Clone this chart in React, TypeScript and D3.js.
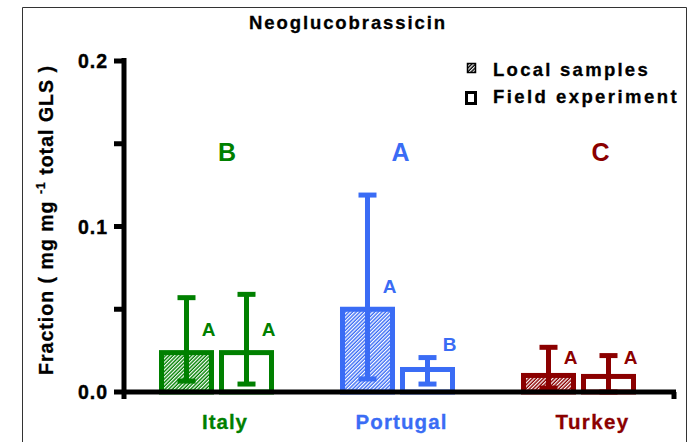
import React, { useEffect, useRef } from "react";
import * as d3 from "d3";

const countries = ["Italy", "Portugal", "Turkey"];
const colors = ["#008000", "#3a6cf5", "#8b0000"];
const seriesKeys = ["local", "field"];
const legendLabels = ["Local samples", "Field experiment"];
const localMean = [0.0238, 0.050, 0.010];
const localLow = [0.0066, 0.0079, 0.0024];
const localHigh = [0.057, 0.119, 0.027];
const fieldMean = [0.0238, 0.0136, 0.0094];
const fieldLow = [0.0048, 0.0048, 0.0];
const fieldHigh = [0.059, 0.0208, 0.022];
const groupLetters = ["B", "A", "C"];
const localLetters = ["A", "A", "A"];
const fieldLetters = ["A", "B", "A"];
const localLetterY = [0.038, 0.064, 0.021];
const fieldLetterY = [0.038, 0.0284, 0.021];
const yTicks = [0, 0.1, 0.2];
const yMinorTicks = [0.05, 0.15];

export default function App() {
  const ref = useRef<SVGSVGElement>(null);
  useEffect(() => {
    document.body.style.margin = "0";
    const svg = d3.select(ref.current);
    svg.selectAll("*").remove();
    const font = "Arial, 'Liberation Sans', sans-serif";
    const fit = (sel: any, target: number) => {
      const node = sel.node() as SVGTextElement;
      const w = node.getComputedTextLength();
      const n = (node.textContent || "").length;
      sel.attr("letter-spacing", (target - w) / n);
    };
    const bold = (sel: any, col: string, sw = 0.5) =>
      sel.attr("stroke", col).attr("stroke-width", sw).attr("paint-order", "stroke");

    const y = d3.scaleLinear().domain([0, 0.2]).range([392, 61]);
    const x0 = d3.scaleBand().domain(countries).range([126, 669]).paddingInner(0.3646).paddingOuter(0.1823);
    const x1 = d3.scaleBand().domain(seriesKeys).range([0, x0.bandwidth()]).paddingInner(0.0833);

    const defs = svg.append("defs");
    const mkPattern = (id: string, c: string) => {
      const p = defs.append("pattern").attr("id", id)
        .attr("patternUnits", "userSpaceOnUse").attr("width", 2.6).attr("height", 2.6)
        .attr("patternTransform", "rotate(45)");
      p.append("rect").attr("width", 2.6).attr("height", 2.6).attr("fill", c);
      p.append("rect").attr("x", 0).attr("y", 0).attr("width", 1.2).attr("height", 2.6)
        .attr("fill", "white");
    };
    colors.forEach((c, i) => mkPattern("hatch" + i, c));
    mkPattern("hatchK", "#000");

    // frame
    svg.append("path").attr("d", "M22.5,442 V7.5 H686.5 V442")
      .attr("fill", "none").attr("stroke", "#333").attr("stroke-width", 1);

    // title
    const title = svg.append("text").attr("x", 348).attr("y", 29).attr("text-anchor", "middle")
      .attr("font-family", font).attr("font-weight", "bold").attr("font-size", 18.5)
      .text("Neoglucobrassicin");
    bold(title, "black", 0.3);
    fit(title, 198);

    // bars
    const series = [
      { mean: localMean, low: localLow, high: localHigh, letters: localLetters, ly: localLetterY, hatch: true },
      { mean: fieldMean, low: fieldLow, high: fieldHigh, letters: fieldLetters, ly: fieldLetterY, hatch: false },
    ];
    const groupOffsets = [10.5, 3, 22];
    const labelOffsets = [8.5, 4, 14];
    const labelWidths = [46, 92, 74];
    countries.forEach((c, ci) => {
      const gx = x0(c)!;
      series.forEach((s, si) => {
        const bx = gx + x1(seriesKeys[si])!;
        const bw = x1.bandwidth();
        const col = colors[ci];
        const top = y(s.mean[ci]);
        svg.append("rect").attr("x", bx + 2.5).attr("y", top)
          .attr("width", bw - 5).attr("height", Math.max(0, y(0) - top))
          .attr("fill", s.hatch ? `url(#hatch${ci})` : "white")
          .attr("stroke", col).attr("stroke-width", 5);
        const cx = bx + bw / 2;
        svg.append("line").attr("x1", cx).attr("x2", cx)
          .attr("y1", y(s.high[ci])).attr("y2", y(s.low[ci]))
          .attr("stroke", col).attr("stroke-width", 5);
        [s.high[ci], s.low[ci]].forEach((v) => {
          svg.append("line").attr("x1", cx - 9).attr("x2", cx + 9)
            .attr("y1", y(v)).attr("y2", y(v))
            .attr("stroke", col).attr("stroke-width", 5);
        });
        svg.append("text").attr("x", cx + 22).attr("y", y(s.ly[ci]))
          .attr("text-anchor", "middle").attr("dominant-baseline", "central")
          .attr("font-family", font).attr("font-weight", "bold").attr("font-size", 19)
          .attr("fill", col).text(s.letters[ci]);
      });
      svg.append("text").attr("x", gx + x0.bandwidth() / 2 + groupOffsets[ci]).attr("y", y(0.145))
        .attr("text-anchor", "middle").attr("dominant-baseline", "central")
        .attr("font-family", font).attr("font-weight", "bold").attr("font-size", 25)
        .attr("fill", colors[ci]).text(groupLetters[ci]);
      const lab = svg.append("text").attr("x", gx + x0.bandwidth() / 2 + labelOffsets[ci]).attr("y", 429)
        .attr("text-anchor", "middle")
        .attr("font-family", font).attr("font-weight", "bold").attr("font-size", 20.5)
        .attr("fill", colors[ci]).text(c);
      bold(lab, colors[ci], 0.3);
      fit(lab, labelWidths[ci]);
    });

    // axes
    svg.append("line").attr("x1", 124).attr("x2", 124).attr("y1", 58).attr("y2", 399)
      .attr("stroke", "black").attr("stroke-width", 5);
    svg.append("line").attr("x1", 122).attr("x2", 676).attr("y1", y(0)).attr("y2", y(0))
      .attr("stroke", "black").attr("stroke-width", 5);
    svg.append("line").attr("x1", 674).attr("x2", 674).attr("y1", y(0)).attr("y2", 399)
      .attr("stroke", "black").attr("stroke-width", 5);
    [...yTicks, ...yMinorTicks].forEach((t) => {
      svg.append("line").attr("x1", 114).attr("x2", 124).attr("y1", y(t)).attr("y2", y(t))
        .attr("stroke", "black").attr("stroke-width", 5);
    });
    yTicks.forEach((t) => {
      const tl = svg.append("text").attr("x", 108).attr("y", y(t)).attr("text-anchor", "end")
        .attr("dominant-baseline", "central")
        .attr("font-family", font).attr("font-weight", "bold").attr("font-size", 19.5)
        .text(d3.format(".1f")(t));
      bold(tl, "black", 0.4);
      fit(tl, 30);
    });

    // y label
    const yl = svg.append("text").attr("transform", "translate(53,220) rotate(-90)")
      .attr("text-anchor", "middle")
      .attr("font-family", font).attr("font-weight", "bold").attr("font-size", 19.5);
    yl.append("tspan").text("Fraction ( mg mg ");
    yl.append("tspan").attr("dy", -8).attr("font-size", 12).text("-1");
    yl.append("tspan").attr("dy", 8).text(" total GLS )");
    bold(yl, "black", 0.3);
    fit(yl, 310);

    // legend
    svg.append("rect").attr("x", 467.5).attr("y", 63.5).attr("width", 8).attr("height", 9)
      .attr("fill", "url(#hatchK)").attr("stroke", "black").attr("stroke-width", 1.5);
    svg.append("rect").attr("x", 466.5).attr("y", 92.5).attr("width", 9).attr("height", 11)
      .attr("fill", "white").attr("stroke", "black").attr("stroke-width", 3);
    const legendWidths = [157, 186];
    legendLabels.forEach((l, i) => {
      const t = svg.append("text").attr("x", 493).attr("y", 76 + i * 27)
        .attr("font-family", font).attr("font-weight", "bold").attr("font-size", 18.5)
        .text(l);
      bold(t, "black", 0.3);
      fit(t, legendWidths[i]);
    });
  }, []);
  return <svg ref={ref} width={689} height={442} style={{ display: "block", background: "white" }} />;
}
